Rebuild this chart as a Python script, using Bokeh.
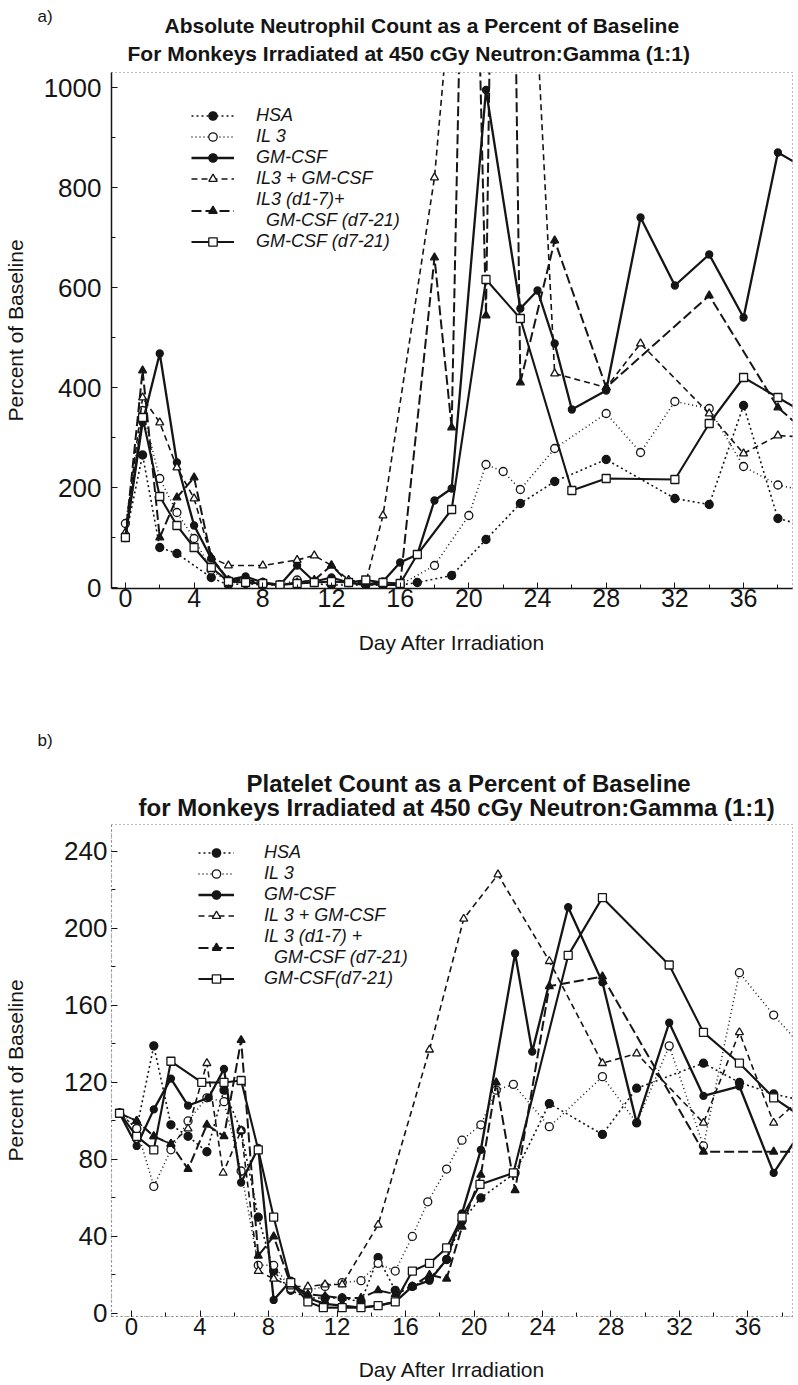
from bokeh.plotting import figure
from bokeh.models import Range1d, Legend, LegendItem, SingleIntervalTicker, Title
from bokeh.layouts import column
from bokeh.embed import file_html
from bokeh.resources import INLINE

FONT = "Liberation Sans"
INK = "#151515"

# ---------------- panel a) : absolute neutrophil count (% of baseline) -------------
a_hsa_day = [0, 1, 2, 3, 5, 6, 7, 8, 9, 10, 12, 14, 16, 17, 19, 21, 23, 25, 28, 32, 34, 36, 38, 40]
a_hsa = [100, 265, 80, 68, 20, 5, 8, 5, 5, 10, 5, 5, 5, 10, 24, 96, 168, 212, 256, 178, 166, 364, 138, 120]

a_il3_day = [0, 1, 2, 3, 4, 5, 6, 7, 8, 9, 10, 11, 12, 13, 14, 15, 16, 18, 20, 21, 22, 23, 25, 28, 30, 32, 34, 36, 38, 40]
a_il3 = [128, 354, 218, 150, 98, 35, 10, 10, 10, 5, 15, 10, 10, 10, 5, 5, 5, 44, 144, 246, 232, 196, 278, 348, 270, 372, 358, 242, 205, 190]

a_gm_day = [0, 1, 2, 3, 4, 5, 6, 7, 8, 9, 10, 11, 12, 13, 14, 15, 16, 17, 18, 19, 21, 23, 24, 25, 26, 28, 30, 32, 34, 36, 38, 40]
a_gm = [100, 330, 468, 250, 124, 58, 15, 22, 10, 5, 44, 12, 20, 10, 5, 12, 50, 66, 174, 198, 995, 558, 594, 488, 356, 394, 740, 604, 666, 540, 870, 830]

a_il3gm_day = [0, 1, 2, 3, 4, 5, 6, 8, 10, 11, 12, 13, 14, 15, 18, 20, 22, 24, 25, 28, 30, 34, 36, 38, 40]
a_il3gm = [110, 380, 330, 240, 178, 60, 44, 44, 55, 64, 44, 15, 10, 144, 820, 1600, 1500, 1100, 428, 400, 488, 348, 268, 304, 300]

a_il3d_day = [0, 1, 2, 3, 4, 5, 6, 7, 8, 9, 10, 11, 12, 13, 14, 15, 16, 18, 19, 20, 21, 22, 23, 25, 28, 34, 38, 40]
a_il3d = [100, 434, 100, 180, 220, 60, 15, 15, 10, 5, 10, 15, 44, 10, 8, 5, 5, 660, 320, 2000, 544, 3000, 410, 694, 400, 584, 360, 300]

a_gmd_day = [0, 1, 2, 3, 4, 5, 6, 7, 8, 9, 10, 11, 12, 13, 14, 15, 16, 17, 19, 21, 23, 26, 28, 32, 34, 36, 38, 40]
a_gmd = [100, 340, 182, 124, 80, 40, 12, 10, 8, 5, 8, 10, 12, 10, 15, 10, 8, 66, 156, 616, 538, 194, 218, 216, 328, 420, 380, 340]

# ---------------- panel b) : platelet count (% of baseline) ------------------------
b_hsa_day = [-0.7, 0.3, 1.3, 2.3, 3.3, 4.4, 5.4, 6.4, 7.4, 8.3, 9.3, 10.3, 11.3, 12.3, 13.4, 14.4, 15.4, 16.4, 17.4, 18.4, 19.3, 20.4, 22.4, 24.4, 27.5, 29.5, 33.4, 35.5, 37.5, 39.5]
b_hsa = [104, 96, 139, 98, 92, 84, 116, 95, 50, 22, 12, 8, 8, 8, 6, 29, 12, 14, 18, 28, 48, 60, 73, 109, 93, 117, 130, 120, 114, 110]

b_il3_day = [-0.7, 0.3, 1.3, 2.3, 3.3, 4.4, 5.4, 6.4, 7.4, 8.3, 9.3, 10.3, 11.3, 12.3, 13.4, 14.4, 15.4, 16.4, 17.3, 18.4, 19.3, 20.4, 21.3, 22.3, 24.4, 27.5, 29.5, 31.4, 33.4, 35.5, 37.5, 39.5]
b_il3 = [104, 96, 66, 85, 100, 112, 110, 74, 25, 25, 13, 12, 14, 16, 17, 26, 22, 40, 58, 75, 90, 98, 116, 119, 97, 123, 99, 139, 87, 177, 155, 135]

b_gm_day = [-0.7, 0.3, 1.3, 2.3, 3.3, 4.5, 5.4, 6.4, 7.4, 8.3, 9.3, 10.3, 11.3, 12.3, 13.4, 14.4, 15.4, 16.4, 17.4, 18.4, 19.3, 20.4, 22.4, 23.4, 25.5, 27.5, 29.5, 31.4, 33.4, 35.5, 37.5, 39.5]
b_gm = [104, 87, 106, 122, 108, 112, 127, 68, 86, 7, 17, 8, 5, 4, 3, 4, 6, 14, 17, 28, 52, 85, 187, 136, 211, 172, 99, 151, 113, 118, 73, 100]

b_il3gm_day = [-0.7, 0.3, 1.3, 2.3, 3.3, 4.4, 5.35, 6.4, 7.4, 8.3, 9.3, 10.3, 11.3, 12.3, 14.4, 17.4, 19.4, 21.4, 24.4, 27.5, 29.5, 33.4, 35.5, 37.5, 39.5]
b_il3gm = [104, 100, 92, 88, 96, 130, 73, 95, 22, 18, 14, 14, 15, 15, 46, 137, 205, 228, 183, 130, 135, 99, 146, 99, 115]

b_il3d_day = [-0.7, 0.3, 1.3, 2.3, 3.3, 4.4, 5.4, 6.4, 7.4, 8.3, 9.3, 10.3, 11.3, 12.3, 13.4, 14.4, 15.4, 16.4, 17.4, 18.4, 19.3, 20.4, 21.3, 22.4, 24.4, 27.5, 33.4, 37.5, 39.5]
b_il3d = [104, 100, 92, 88, 75, 98, 92, 142, 30, 40, 15, 10, 9, 8, 8, 12, 10, 14, 20, 18, 45, 72, 120, 64, 170, 175, 84, 84, 84]

b_gmd_day = [-0.7, 0.3, 1.3, 2.3, 4.1, 5.4, 6.4, 7.4, 8.3, 9.3, 10.3, 11.2, 12.3, 13.4, 14.4, 15.4, 16.4, 17.4, 18.4, 19.3, 20.35, 22.3, 25.5, 27.5, 31.4, 33.4, 35.5, 37.5, 39.5]
b_gmd = [104, 92, 85, 131, 120, 120, 121, 85, 50, 16, 6, 3, 3, 3, 4, 6, 22, 26, 34, 50, 67, 73, 186, 216, 181, 146, 130, 112, 100]

a_labels = ["HSA", "IL 3", "GM-CSF", "IL3 + GM-CSF", "IL3 (d1-7)+\n  GM-CSF (d7-21)", "GM-CSF (d7-21)"]
b_labels = ["HSA", "IL 3", "GM-CSF", "IL 3 + GM-CSF", "IL 3 (d1-7) +\n  GM-CSF (d7-21)", "GM-CSF(d7-21)"]

a_title = ["Absolute Neutrophil Count as a Percent of Baseline",
           "For Monkeys Irradiated at 450 cGy Neutron:Gamma (1:1)"]
b_title = ["Platelet Count as a Percent of Baseline",
           "for Monkeys Irradiated at 450 cGy Neutron:Gamma (1:1)"]

# line dash, line width, marker, filled?, size
STYLES = [
    ("2 3", 1.6, "circle", True, 8),
    ("1 3", 1.5, "circle", False, 8),
    ("solid", 2.3, "circle", True, 7),
    ("6 4", 1.6, "triangle", False, 8),
    ("10 4", 2.0, "triangle", True, 8),
    ("solid", 2.1, "square", False, 8),
]


def make_title(text, off, st, size, bold=True):
    kw = dict(text=text, align="left", offset=off, text_font=FONT,
              text_font_style="bold" if bold else "normal",
              text_font_size=size, text_color=INK)
    try:
        return Title(standoff=st, **kw)
    except Exception:
        return Title(standoff=max(st, 0), **kw)


def panel(series, labels, xr, yr, height, borders, yint, xfont, yfont, ylab_st, yax_st,
          xlab_st, xax_st, legend_loc, glyph_w, lab_stand, titles, title_size,
          title_offsets, title_standoffs, tag, tag_offset, tag_standoff):
    p = figure(width=798, height=height, output_backend="svg", toolbar_location=None,
               x_range=Range1d(*xr), y_range=Range1d(*yr),
               min_border_left=borders[0], min_border_right=borders[1],
               min_border_top=borders[2], min_border_bottom=borders[3])
    p.background_fill_color = "white"
    p.border_fill_color = "white"
    p.outline_line_color = "#777777"
    p.outline_line_dash = "1 3"
    p.xgrid.visible = False
    p.ygrid.visible = False

    items = []
    for (xs, ys), (dash, lw, mk, filled, sz), lab in zip(series, STYLES, labels):
        lr = p.line(xs, ys, line_color=INK, line_width=lw, line_dash=dash)
        sr = p.scatter(xs, ys, marker=mk, size=sz, line_color=INK, line_width=1.3,
                       fill_color=INK if filled else "white")
        items.append(LegendItem(label=lab, renderers=[lr, sr]))

    leg = Legend(items=items, location=legend_loc, border_line_color=None,
                 background_fill_alpha=0, padding=0, margin=0, spacing=0,
                 glyph_width=glyph_w, glyph_height=21, label_height=21,
                 label_standoff=lab_stand, label_text_font=FONT,
                 label_text_font_style="italic", label_text_font_size="18px",
                 label_text_line_height=1.0, label_text_color=INK)
    p.add_layout(leg)

    xa = p.xaxis[0]
    xa.ticker = SingleIntervalTicker(interval=4, num_minor_ticks=2)
    ya = p.yaxis[0]
    ya.ticker = SingleIntervalTicker(interval=yint, num_minor_ticks=2)
    for ax in (xa, ya):
        ax.major_label_text_font = FONT
        ax.major_label_text_color = INK
        ax.axis_label_text_font = FONT
        ax.axis_label_text_font_style = "normal"
        ax.axis_label_text_color = INK
        ax.axis_label_text_font_size = "21px"
        ax.major_tick_in = 6
        ax.major_tick_out = 0
        ax.minor_tick_in = 4
        ax.minor_tick_out = 0
        ax.major_tick_line_color = INK
        ax.minor_tick_line_color = INK
    xa.major_label_text_font_size = xfont
    ya.major_label_text_font_size = yfont
    xa.axis_label = "Day After Irradiation"
    ya.axis_label = "Percent of Baseline"
    xa.major_label_standoff = xlab_st
    ya.major_label_standoff = ylab_st
    xa.axis_label_standoff = xax_st
    ya.axis_label_standoff = yax_st

    # title lines: the second line sits next to the frame, the first above it,
    # the panel tag ("a)" / "b)") outermost
    p.add_layout(make_title(titles[1], title_offsets[1], title_standoffs[1], title_size), "above")
    p.add_layout(make_title(titles[0], title_offsets[0], title_standoffs[0], title_size), "above")
    p.add_layout(make_title(tag, tag_offset, tag_standoff, "17px", bold=False), "above")
    return p


pa = panel(
    [(a_hsa_day, a_hsa), (a_il3_day, a_il3), (a_gm_day, a_gm), (a_il3gm_day, a_il3gm),
     (a_il3d_day, a_il3d), (a_gmd_day, a_gmd)],
    a_labels, (-0.81, 38.85), (-2, 1030), 700, (110, 0, 72, 112), 200,
    "25px", "26px", 10, 14, 0, 21,
    (80, 336), 43, 22,
    a_title, "21px", (53, 16), (-11, 16), "a)", -74, -17.4)
pa.xaxis[0].axis_line_color = INK
pa.yaxis[0].axis_line_color = INK
pa.xaxis[0].axis_line_width = 1.5
pa.yaxis[0].axis_line_width = 1.5

pb = panel(
    [(b_hsa_day, b_hsa), (b_il3_day, b_il3), (b_gm_day, b_gm), (b_il3gm_day, b_il3gm),
     (b_il3d_day, b_il3d), (b_gmd_day, b_gmd)],
    b_labels, (-1.17, 38.6), (-1.6, 254), 685, (110, 6, 124, 69), 40,
    "24px", "26px", 4, 34, 1, 20,
    (87, 327), 36, 30,
    b_title, "24px", (135, 27), (-16.2, 6.6), "b)", -74, 50.6)
for ax in (pb.xaxis[0], pb.yaxis[0]):
    ax.axis_line_color = "#555555"
    ax.axis_line_dash = "1 4"
    ax.axis_line_width = 1.2

layout = column(pa, pb, spacing=0)
open("out.html", "w").write(file_html(layout, INLINE))
